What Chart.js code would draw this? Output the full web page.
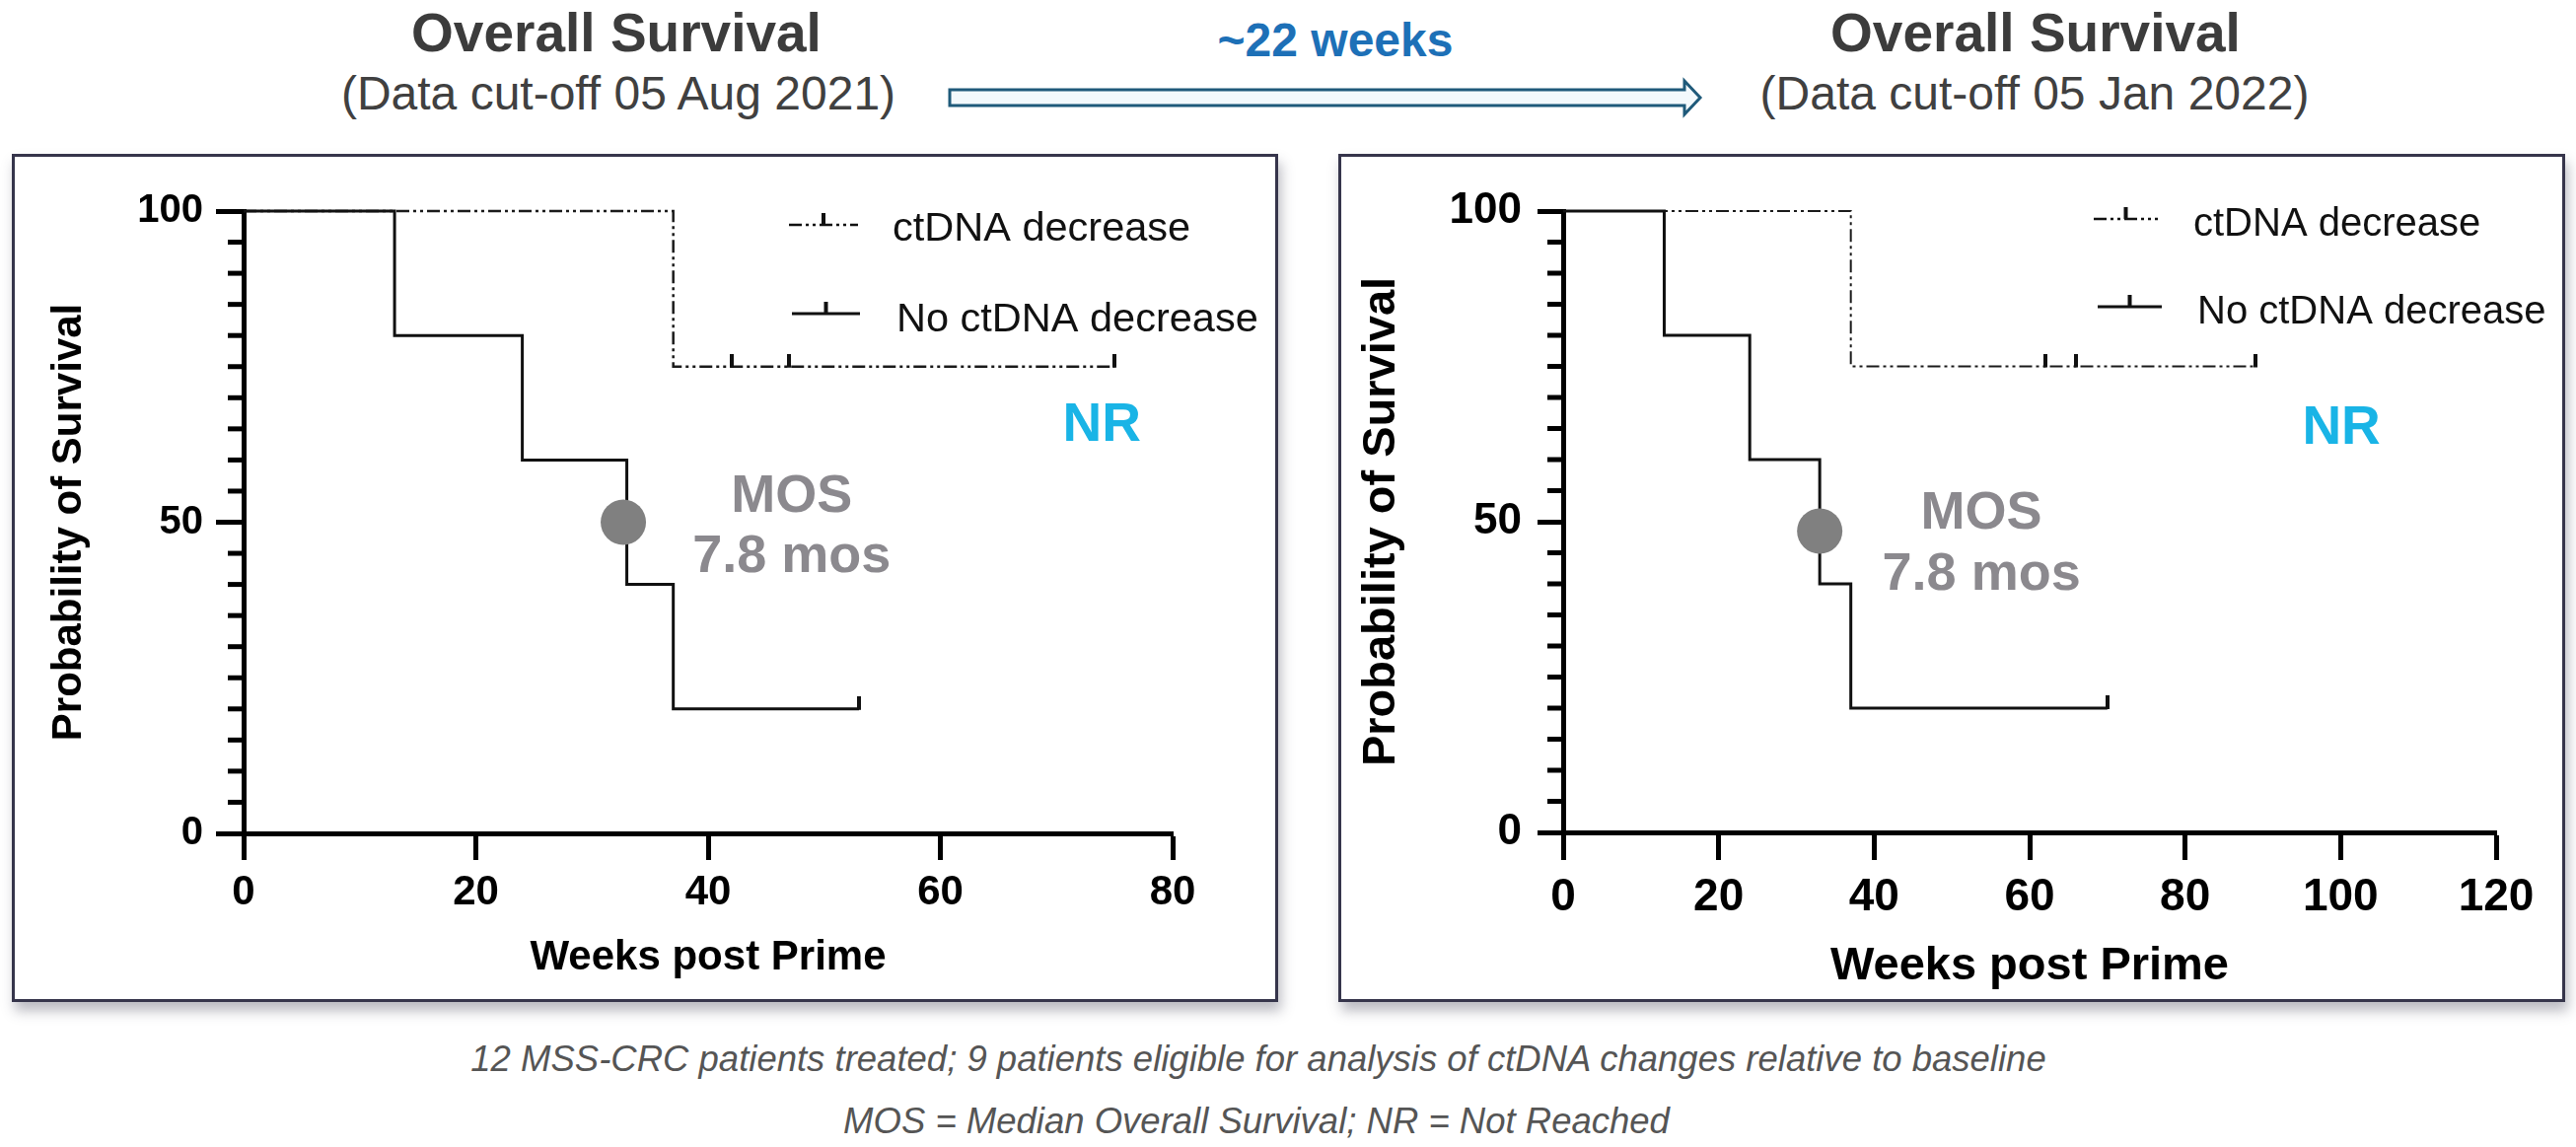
<!DOCTYPE html>
<html><head><meta charset="utf-8">
<script src="https://cdn.jsdelivr.net/npm/chart.js@4.4.1/dist/chart.umd.min.js"></script>
<style>
html,body{margin:0;padding:0;background:#fff;}
body{width:2612px;height:1163px;position:relative;overflow:hidden;font-family:"Liberation Sans",Arial,Helvetica,sans-serif;}
.t{position:absolute;white-space:nowrap;line-height:1;transform:translateX(-50%);}
.box{position:absolute;border:3px solid #36354b;box-sizing:border-box;background:#fff;box-shadow:3px 9px 12px rgba(60,60,80,0.35);}
canvas{position:absolute;}
</style></head><body>

<div class="t" style="left:625px;top:6px;font-size:55px;font-weight:bold;color:#3c3c3c;">Overall Survival</div>
<div class="t" style="left:627px;top:71px;font-size:48px;color:#404040;">(Data cut-off 05 Aug 2021)</div>
<div class="t" style="left:1354px;top:17px;font-size:48px;font-weight:bold;color:#1d70b7;">~22 weeks</div>
<div class="t" style="left:2064px;top:6px;font-size:55px;font-weight:bold;color:#3c3c3c;">Overall Survival</div>
<div class="t" style="left:2063px;top:71px;font-size:48px;color:#404040;">(Data cut-off 05 Jan 2022)</div>

<svg style="position:absolute;left:0;top:0;" width="2612" height="160">
  <path d="M963,91 L1708,91 L1708,82 L1724,99 L1708,116 L1708,107 L963,107 Z" fill="#f3f9fc" stroke="#1f5a7a" stroke-width="3"/>
</svg>

<div class="box" style="left:12px;top:156px;width:1284px;height:860px;"></div>
<div class="box" style="left:1357px;top:156px;width:1244px;height:860px;"></div>
<canvas id="c1" width="1278" height="854" style="left:15px;top:159px;"></canvas>
<canvas id="c2" width="1238" height="854" style="left:1360px;top:159px;"></canvas>

<div class="t" style="left:1276px;top:1056px;font-size:36.5px;font-style:italic;color:#555;">12 MSS-CRC patients treated; 9 patients eligible for analysis of ctDNA changes relative to baseline</div>
<div class="t" style="left:1274px;top:1119px;font-size:36.5px;font-style:italic;color:#555;">MOS = Median Overall Survival; NR = Not Reached</div>

<script>
// ---------- DATA ----------
const seriesNames = ['ctDNA decrease', 'No ctDNA decrease'];
const yTicks = [0, 50, 100];
const xTicksLeft = [0, 20, 40, 60, 80];
const xTicksRight = [0, 20, 40, 60, 80, 100, 120];

// Left panel: data cut-off 05 Aug 2021
const leftDecWeeks = [0, 37, 42, 47, 75];
const leftDecSurv = [100, 75, 75, 75, 75];
const leftNoDecWeeks = [0, 13, 24, 33, 37, 53];
const leftNoDecSurv = [100, 80, 60, 40, 20, 20];
const leftDecCensorWeeks = [42, 47, 75];
const leftDecCensorSurv = [75, 75, 75];
const leftNoDecCensorWeeks = [53];
const leftNoDecCensorSurv = [20];
const leftMedianWeek = [32.7];
const leftMedianSurv = [50];

// Right panel: data cut-off 05 Jan 2022
const rightDecWeeks = [0, 37, 62, 66, 89];
const rightDecSurv = [100, 75, 75, 75, 75];
const rightNoDecWeeks = [0, 13, 24, 33, 37, 70];
const rightNoDecSurv = [100, 80, 60, 40, 20, 20];
const rightDecCensorWeeks = [62, 66, 89];
const rightDecCensorSurv = [75, 75, 75];
const rightNoDecCensorWeeks = [70];
const rightNoDecCensorSurv = [20];
const rightMedianWeek = [33];
const rightMedianSurv = [48.5];

// ---------- helpers ----------
const FAM = "'Liberation Sans', Arial, Helvetica, sans-serif";
const pts = (xs, ys) => xs.map((x, i) => ({x, y: ys[i]}));
const DASH = [13, 4, 3, 4, 3, 4];

function tickImg(h, w, color) {
  const c = document.createElement('canvas');
  c.width = w; c.height = h * 2;
  const g = c.getContext('2d');
  g.fillStyle = color;
  g.fillRect(0, 0, w, h + 1);
  return c;
}

const minorTicks = {
  id: 'minorTicks',
  afterDraw(chart, args, o) {
    const y = chart.scales.y, ctx = chart.ctx, left = chart.chartArea.left;
    ctx.save();
    ctx.strokeStyle = '#000';
    ctx.lineWidth = o.width;
    for (let v = y.min + o.step; v < y.max; v += o.step) {
      if (yTicks.includes(v)) continue;
      const py = y.getPixelForValue(v);
      ctx.beginPath();
      ctx.moveTo(left - o.length, py);
      ctx.lineTo(left, py);
      ctx.stroke();
    }
    ctx.restore();
  }
};

const kmLegend = {
  id: 'kmLegend',
  afterDraw(chart, args, o) {
    const ctx = chart.ctx;
    ctx.save();
    o.items.forEach((it, i) => {
      ctx.strokeStyle = '#111';
      ctx.lineWidth = i === 0 ? 2.5 : 3;
      ctx.setLineDash(i === 0 ? DASH : []);
      ctx.beginPath();
      ctx.moveTo(it.x1, it.ly); ctx.lineTo(it.x2, it.ly); ctx.stroke();
      ctx.setLineDash([]);
      ctx.fillStyle = '#111';
      const mx = (it.x1 + it.x2) / 2;
      ctx.fillRect(mx - 2, it.ly - 12, 4, 12);
      ctx.font = o.size + 'px ' + FAM;
      ctx.textBaseline = 'alphabetic';
      ctx.textAlign = 'left';
      ctx.fillStyle = '#111';
      ctx.fillText(seriesNames[i], it.tx, it.ty);
    });
    ctx.restore();
  }
};

const kmNotes = {
  id: 'kmNotes',
  afterDraw(chart, args, o) {
    const ctx = chart.ctx, xs = chart.scales.x, ys = chart.scales.y;
    ctx.save();
    ctx.textAlign = 'center';
    ctx.textBaseline = 'middle';
    o.items.forEach(n => {
      ctx.font = 'bold ' + n.size + 'px ' + FAM;
      ctx.fillStyle = n.color;
      ctx.fillText(n.text, xs.getPixelForValue(n.x), ys.getPixelForValue(n.y));
    });
    ctx.restore();
  }
};

function makeChart(id, d, lay) {
  const tick = tickImg(13, 4, '#111');
  return new Chart(document.getElementById(id), {
    type: 'line',
    data: {
      datasets: [
        {type: 'scatter', data: pts(d.medX, d.medY), pointRadius: 23, pointBackgroundColor: '#808080',
         pointBorderWidth: 0, showLine: false, order: -2, clip: false},
        {label: seriesNames[0], data: pts(d.decX, d.decY), stepped: 'before', borderColor: '#1a1a1a',
         borderWidth: lay.dashW, borderDash: DASH, pointRadius: 0, fill: false, order: 3, clip: 10},
        {label: seriesNames[1], data: pts(d.noX, d.noY), stepped: 'before', borderColor: '#111',
         borderWidth: 3, pointRadius: 0, fill: false, order: 2, clip: 10},
        {type: 'scatter', data: pts(d.decCX, d.decCY), pointStyle: tick, pointRadius: 3, order: 0, clip: false},
        {type: 'scatter', data: pts(d.noCX, d.noCY), pointStyle: tick, pointRadius: 3, order: 0, clip: false}
      ]
    },
    options: {
      responsive: false, animation: false, devicePixelRatio: 1, events: [],
      layout: {padding: {top: lay.top, right: lay.right, left: 0, bottom: 0}},
      plugins: {
        legend: {display: false}, tooltip: {enabled: false},
        minorTicks: {step: 5, length: 16, width: 5},
        kmLegend: {size: lay.legSize, items: lay.legend},
        kmNotes: {items: lay.notes}
      },
      scales: {
        x: {
          type: 'linear', min: 0, max: d.xMax,
          afterBuildTicks: s => { s.ticks = d.xTicks.map(v => ({value: v})); },
          afterFit: s => { s.height = lay.xH; },
          grid: {drawOnChartArea: false, drawTicks: true, tickLength: lay.xTickLen, tickWidth: 5, color: '#000'},
          border: {display: true, width: 5, color: '#000'},
          ticks: {font: {size: lay.xFont, weight: 'bold', family: FAM}, color: '#000', padding: lay.xPad, maxRotation: 0, autoSkip: false},
          title: {display: true, text: 'Weeks post Prime', color: '#000',
                  font: {size: lay.titleFont, weight: 'bold', family: FAM}, padding: {top: 0, bottom: lay.xTitlePad}}
        },
        y: {
          type: 'linear', min: 0, max: 100,
          afterBuildTicks: s => { s.ticks = yTicks.map(v => ({value: v})); },
          afterFit: s => { s.width = lay.yW; },
          grid: {drawOnChartArea: false, drawTicks: true, tickLength: lay.yTickLen, tickWidth: 5, color: '#000'},
          border: {display: true, width: 5, color: '#000'},
          ticks: {font: {size: lay.yFont, weight: 'bold', family: FAM}, color: '#000', padding: lay.yPad},
          title: {display: true, text: 'Probability of Survival', color: '#000',
                  font: {size: lay.titleFont, weight: 'bold', family: FAM}, padding: {top: lay.yTitlePad, bottom: 0}}
        }
      }
    },
    plugins: [minorTicks, kmLegend, kmNotes]
  });
}

makeChart('c1', {
  xMax: 80, xTicks: xTicksLeft,
  decX: leftDecWeeks, decY: leftDecSurv, noX: leftNoDecWeeks, noY: leftNoDecSurv,
  decCX: leftDecCensorWeeks, decCY: leftDecCensorSurv, noCX: leftNoDecCensorWeeks, noCY: leftNoDecCensorSurv,
  medX: leftMedianWeek, medY: leftMedianSurv
}, {
  top: 55, right: 104, yW: 232, xH: 168, xTickLen: 27, yTickLen: 28,
  xFont: 42, yFont: 40, xPad: 8, yPad: 13, titleFont: 42, xTitlePad: 16, yTitlePad: 30, dashW: 2.5,
  legSize: 41.5,
  legend: [{x1: 785, x2: 855, ly: 69, tx: 890, ty: 85}, {x1: 788, x2: 857, ly: 159, tx: 894, ty: 177}],
  notes: [
    {text: 'MOS', x: 47.2, y: 54.0, size: 54, color: '#8b898e'},
    {text: '7.8 mos', x: 47.2, y: 44.3, size: 54, color: '#8b898e'},
    {text: 'NR', x: 73.9, y: 65.4, size: 55, color: '#19b4e6'}
  ]
});

makeChart('c2', {
  xMax: 120, xTicks: xTicksRight,
  decX: rightDecWeeks, decY: rightDecSurv, noX: rightNoDecWeeks, noY: rightNoDecSurv,
  decCX: rightDecCensorWeeks, decCY: rightDecCensorSurv, noCX: rightNoDecCensorWeeks, noCY: rightNoDecCensorSurv,
  medX: rightMedianWeek, medY: rightMedianSurv
}, {
  top: 55, right: 67, yW: 225, xH: 169, xTickLen: 28, yTickLen: 26,
  xFont: 46, yFont: 44, xPad: 11, yPad: 16, titleFont: 47, xTitlePad: 5, yTitlePad: 13, dashW: 2,
  legSize: 40,
  legend: [{x1: 763, x2: 828, ly: 63, tx: 864, ty: 80}, {x1: 767, x2: 832, ly: 152, tx: 868, ty: 169}],
  notes: [
    {text: 'MOS', x: 53.8, y: 51.2, size: 54, color: '#8b898e'},
    {text: '7.8 mos', x: 53.8, y: 41.4, size: 54, color: '#8b898e'},
    {text: 'NR', x: 100.1, y: 65, size: 55, color: '#19b4e6'}
  ]
});
</script>
</body></html>
